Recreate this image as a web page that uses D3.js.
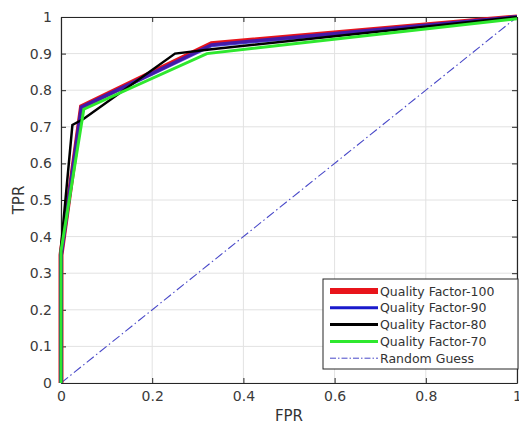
<!DOCTYPE html>
<html><head><meta charset="utf-8">
<script src="https://cdn.jsdelivr.net/npm/d3@7"></script>
<style>body{margin:0;background:#fff;}svg{display:block;font-family:"DejaVu Sans",sans-serif;}</style>
</head><body><svg id="c" width="519" height="428"></svg>
<script>
const xTicks = [0, 0.2, 0.4, 0.6, 0.8, 1];
const yTicks = [0, 0.1, 0.2, 0.3, 0.4, 0.5, 0.6, 0.7, 0.8, 0.9, 1];
const seriesNames = ["Quality Factor-100", "Quality Factor-90", "Quality Factor-80", "Quality Factor-70"];
const seriesColors = ["#e8141b", "#1a1acc", "#000000", "#2ee82e"];
const seriesWidths = [5, 4, 2.5, 3];
const qf100 = [[0,0],[0,0.35],[0.045,0.755],[0.33,0.927],[1,1]];
const qf90  = [[0,0],[0,0.35],[0.045,0.753],[0.33,0.923],[1,1]];
const qf80  = [[0,0],[0,0.37],[0.025,0.705],[0.05,0.722],[0.25,0.90],[0.33,0.912],[1,1]];
const qf70  = [[0,0],[0,0.36],[0.05,0.748],[0.32,0.90],[1,0.995]];
const randomGuess = [[0,0],[1,1]];
const seriesData = [qf100, qf90, qf80, qf70];

const svg = d3.select("#c");
const L = 61, R = 517, T = 17, B = 383;
const x = d3.scaleLinear().domain([0,1]).range([L,R]);
const y = d3.scaleLinear().domain([0,1]).range([B,T]);

// grid
svg.append("g").selectAll("line").data(xTicks).join("line")
  .attr("x1", d=>x(d)).attr("x2", d=>x(d)).attr("y1", T).attr("y2", B)
  .attr("stroke", "#e2e2e2").attr("stroke-width", 1);
svg.append("g").selectAll("line").data(yTicks).join("line")
  .attr("y1", d=>y(d)).attr("y2", d=>y(d)).attr("x1", L).attr("x2", R)
  .attr("stroke", "#e2e2e2").attr("stroke-width", 1);

// axes
const tickFmt = d => d === 0 ? "0" : d === 1 ? "1" : d3.format(".1f")(d);
const ax = svg.append("g").attr("transform", `translate(0,${B})`)
  .call(d3.axisBottom(x).tickValues(xTicks).tickFormat(tickFmt).tickSizeInner(-5).tickSizeOuter(0).tickPadding(8));
const ay = svg.append("g").attr("transform", `translate(${L},0)`)
  .call(d3.axisLeft(y).tickValues(yTicks).tickFormat(tickFmt).tickSizeInner(-5).tickSizeOuter(0).tickPadding(9));
const axTop = svg.append("g").attr("transform", `translate(0,${T})`)
  .call(d3.axisTop(x).tickValues(xTicks).tickFormat("").tickSizeInner(-5).tickSizeOuter(0));
const ayR = svg.append("g").attr("transform", `translate(${R},0)`)
  .call(d3.axisRight(y).tickValues(yTicks).tickFormat("").tickSizeInner(-5).tickSizeOuter(0));
[ax, ay, axTop, ayR].forEach(g => {
  g.select(".domain").attr("stroke", "#262626").attr("stroke-width", 1.2);
  g.selectAll(".tick line").attr("stroke", "#262626");
  g.selectAll(".tick text").attr("fill", "#3a3a3a").attr("font-size", 14).attr("font-family", "DejaVu Sans, sans-serif");
});

// random guess
const line = d3.line().x(d=>x(d[0])).y(d=>y(d[1]));
svg.append("path").datum(randomGuess).attr("d", line)
  .attr("fill", "none").attr("stroke", "#4848c8").attr("stroke-width", 1.1)
  .attr("stroke-dasharray", "9,3,1.5,3");

// series
seriesData.forEach((d, i) => {
  svg.append("path").datum(d).attr("d", line)
    .attr("fill", "none").attr("stroke", seriesColors[i]).attr("stroke-width", seriesWidths[i])
    .attr("stroke-linejoin", "miter").attr("opacity", i === 1 ? 0.8 : 1);
});

// axis labels
svg.append("text").attr("x", x(0.5)).attr("y", 421).attr("text-anchor", "middle")
  .attr("font-size", 15).attr("fill", "#333").text("FPR");
svg.append("text").attr("transform", `translate(24,${y(0.5)}) rotate(-90)`).attr("text-anchor", "middle")
  .attr("font-size", 15).attr("fill", "#333").text("TPR");

// legend
const lg = svg.append("g");
lg.append("rect").attr("x", 323).attr("y", 279).attr("width", 195).attr("height", 90)
  .attr("fill", "#fff").attr("stroke", "#262626").attr("stroke-width", 1);
const legItems = seriesNames.map((n, i) => ({name: n, color: seriesColors[i], w: i === 0 ? 6 : 3, dash: null}))
  .concat([{name: "Random Guess", color: "#4848c8", w: 1, dash: "6,2,1.5,2"}]);
legItems.forEach((d, i) => {
  const yy = 291 + i * 16.8;
  lg.append("line").attr("x1", 330).attr("x2", 378).attr("y1", yy).attr("y2", yy)
    .attr("stroke", d.color).attr("stroke-width", d.w).attr("stroke-dasharray", d.dash);
  lg.append("text").attr("x", 380).attr("y", yy + 4.5).attr("font-size", 12.5).attr("fill", "#333").text(d.name);
});
</script></body></html>
